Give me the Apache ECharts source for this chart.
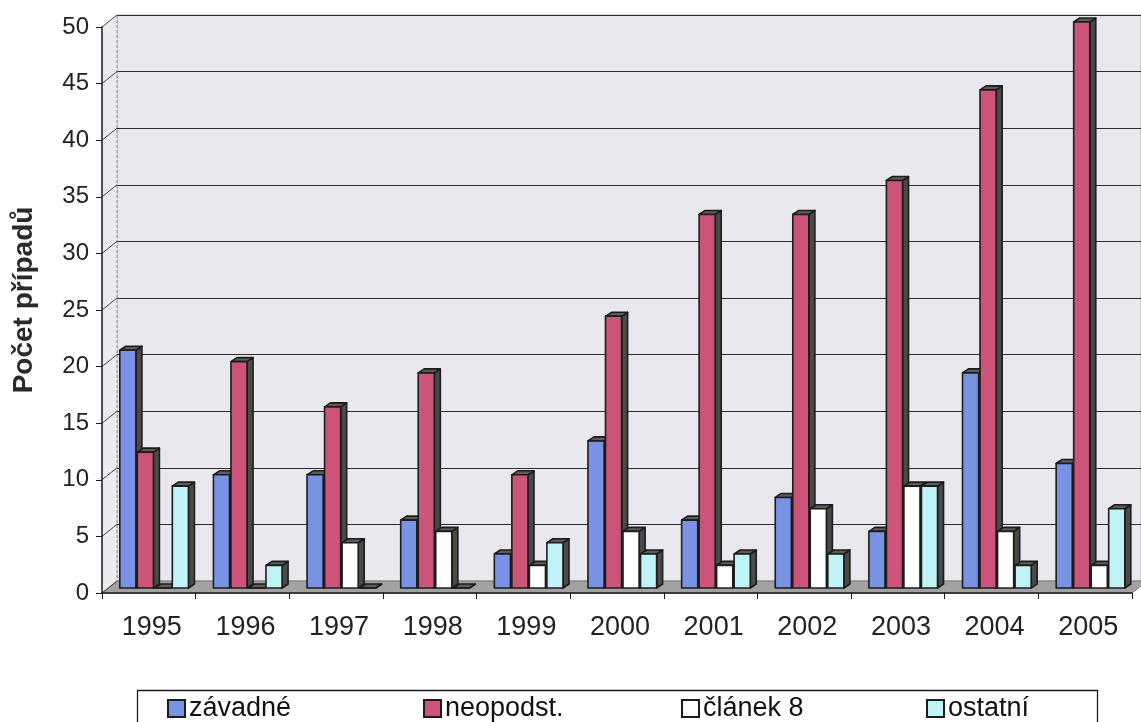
<!DOCTYPE html>
<html>
<head>
<meta charset="utf-8">
<script src="https://cdn.jsdelivr.net/npm/echarts@6/dist/echarts.min.js"></script>
<style>
  html, body { margin: 0; padding: 0; background: #ffffff; }
  #chart { width: 1141px; height: 722px; }
</style>
</head>
<body>
<div id="chart"></div>
<script>
// Počet případů podle druhu, 1995–2005
const years = ['1995', '1996', '1997', '1998', '1999', '2000', '2001', '2002', '2003', '2004', '2005'];
const zavadne = [21, 10, 10, 6, 3, 13, 6, 8, 5, 19, 11];
const neopodst = [12, 20, 16, 19, 10, 24, 33, 33, 36, 44, 50];
const clanek8 = [0, 0, 4, 5, 2, 5, 2, 7, 9, 5, 2];
const ostatni = [9, 2, 0, 0, 4, 3, 3, 3, 9, 2, 7];
const yTicks = [0, 5, 10, 15, 20, 25, 30, 35, 40, 45, 50];

const seriesNames = ['závadné', 'neopodst.', 'článek 8', 'ostatní'];
const seriesValues = [zavadne, neopodst, clanek8, ostatni];
const seriesColors = ['#7a92e4', '#cc5479', '#ffffff', '#bff3f5'];

const FONT = '"Liberation Sans", Arial, sans-serif';
const WALL_DX = 15, WALL_DY = 12;      // depth of the back wall
const BAR_DX = 6, BAR_DY = 4;          // depth of each bar
const BAR_LIFT = 5, BAR_SHIFT = 6;     // bars stand mid-depth on the floor

const chart = echarts.init(document.getElementById('chart'), null, { renderer: 'canvas' });

function barRenderer(k) {
  return function (params, api) {
    const i = api.value(0);
    const v = api.value(1);
    const band = api.size([1, 0])[0];
    const slot = band * 0.187;
    const w = slot * 0.92;
    const center = api.coord([i, 0])[0];
    const x = center - 2 * slot + BAR_SHIFT + k * slot;
    const base = api.coord([i, 0])[1] - BAR_LIFT;
    const top = api.coord([i, v])[1] - BAR_LIFT;
    const stroke = { stroke: '#1c1c1c', lineWidth: 1.6, lineJoin: 'round' };
    return {
      type: 'group',
      children: [
        {
          type: 'polygon',
          shape: { points: [[x + w, top], [x + w + BAR_DX, top - BAR_DY], [x + w + BAR_DX, base - BAR_DY], [x + w, base]] },
          style: Object.assign({ fill: '#4a4a48' }, stroke)
        },
        {
          type: 'polygon',
          shape: { points: [[x, top], [x + BAR_DX, top - BAR_DY], [x + w + BAR_DX, top - BAR_DY], [x + w, top]] },
          style: Object.assign({ fill: '#5c5c5a' }, stroke)
        },
        {
          type: 'rect',
          shape: { x: x, y: top, width: w, height: Math.max(base - top, 0) },
          style: Object.assign({ fill: seriesColors[k] }, stroke)
        }
      ]
    };
  };
}

function frameRenderer(params, api) {
  const cs = params.coordSys;
  const x = cs.x, y = cs.y, w = cs.width, h = cs.height;
  const children = [
    {
      type: 'polygon',
      shape: { points: [[x, y + h], [x, y], [x + WALL_DX, y - WALL_DY], [x + WALL_DX, y + h - WALL_DY]] },
      style: { fill: '#ecebf0' }
    },
    {
      type: 'line',
      shape: { x1: x + WALL_DX, y1: y - WALL_DY, x2: x + WALL_DX, y2: y + h - WALL_DY },
      style: { stroke: '#8a8a8a', lineWidth: 1, lineDash: [3, 2] }
    },
    {
      type: 'polygon',
      shape: { points: [[x, y + h], [x + WALL_DX, y + h - WALL_DY], [x + w + WALL_DX, y + h - WALL_DY], [x + w, y + h]] },
      style: { fill: '#a2a2a2', stroke: '#777777', lineWidth: 1 }
    }
  ];
  yTicks.forEach(function (t) {
    const ty = api.coord([0, t])[1];
    children.push({
      type: 'line',
      shape: { x1: x, y1: ty, x2: x + WALL_DX, y2: ty - WALL_DY },
      style: { stroke: '#444444', lineWidth: 1 }
    });
  });
  return { type: 'group', children: children };
}

const legendLefts = [162, 418, 676, 921];

const option = {
  animation: false,
  backgroundColor: '#ffffff',
  textStyle: { fontFamily: FONT },
  grid: [
    { left: 102, top: 27, width: 1030, height: 566, containLabel: false },
    { left: 102 + WALL_DX, top: 27 - WALL_DY, width: 1030, height: 566, show: true,
      backgroundColor: '#e9e8ee', borderColor: '#b4b4b8', borderWidth: 1 }
  ],
  xAxis: [
    {
      type: 'category', gridIndex: 0, data: years, boundaryGap: true, z: 5,
      axisLine: { show: true, lineStyle: { color: '#1a1a1a', width: 1.5 } },
      axisTick: { show: true, interval: 0, length: 6, lineStyle: { color: '#1a1a1a', width: 1 } },
      axisLabel: { fontSize: 27, color: '#222222', margin: 21, fontFamily: FONT, padding: [0, 0, 0, 6], interval: 0 },
      splitLine: { show: false }
    },
    {
      type: 'category', gridIndex: 1, data: years, show: false
    }
  ],
  yAxis: [
    {
      type: 'value', gridIndex: 0, min: 0, max: 50, interval: 5, z: 5,
      name: 'Počet případů', nameLocation: 'middle', nameGap: 64, nameRotate: 90,
      nameTextStyle: { fontSize: 28, fontWeight: 'bold', color: '#2a2a2a', fontFamily: FONT, padding: [0, 0, 0, 20] },
      axisLine: { show: true, lineStyle: { color: '#1a1a1a', width: 1.5 } },
      axisTick: { show: true, length: 6, lineStyle: { color: '#1a1a1a' } },
      axisLabel: { fontSize: 24, color: '#222222', margin: 13, fontFamily: FONT },
      splitLine: { show: false }
    },
    {
      type: 'value', gridIndex: 1, min: 0, max: 50, interval: 5,
      axisLine: { show: false }, axisTick: { show: false }, axisLabel: { show: false },
      splitLine: { show: true, lineStyle: { color: '#2e2e2e', width: 1.2 } }
    }
  ],
  legend: seriesNames.map(function (name, k) {
    return {
      data: [name], left: legendLefts[k], top: 690,
      icon: 'rect', itemWidth: 17, itemHeight: 17, itemGap: 0,
      itemStyle: { borderColor: '#1c1c1c', borderWidth: 2 },
      textStyle: { fontSize: 27, color: '#111111', fontFamily: FONT, padding: [0, 0, 0, -1] },
      selectedMode: false
    };
  }),
  graphic: [
    { type: 'rect', left: 135, top: 688, shape: { width: 960, height: 60 },
      style: { fill: 'none', stroke: '#1c1c1c', lineWidth: 1.3 }, z: -1 }
  ],
  series: [
    {
      type: 'custom', name: 'frame', xAxisIndex: 0, yAxisIndex: 0, z: 1,
      data: [[0, 0]], renderItem: frameRenderer, silent: true
    }
  ].concat(seriesValues.map(function (vals, k) {
    return {
      type: 'custom', name: seriesNames[k], xAxisIndex: 0, yAxisIndex: 0, z: 3 + k,
      itemStyle: { color: seriesColors[k], borderColor: '#1c1c1c', borderWidth: 1.5 },
      encode: { x: 0, y: 1 },
      data: vals.map(function (v, i) { return [i, v]; }),
      renderItem: barRenderer(k)
    };
  }))
};

chart.setOption(option);
</script>
</body>
</html>
